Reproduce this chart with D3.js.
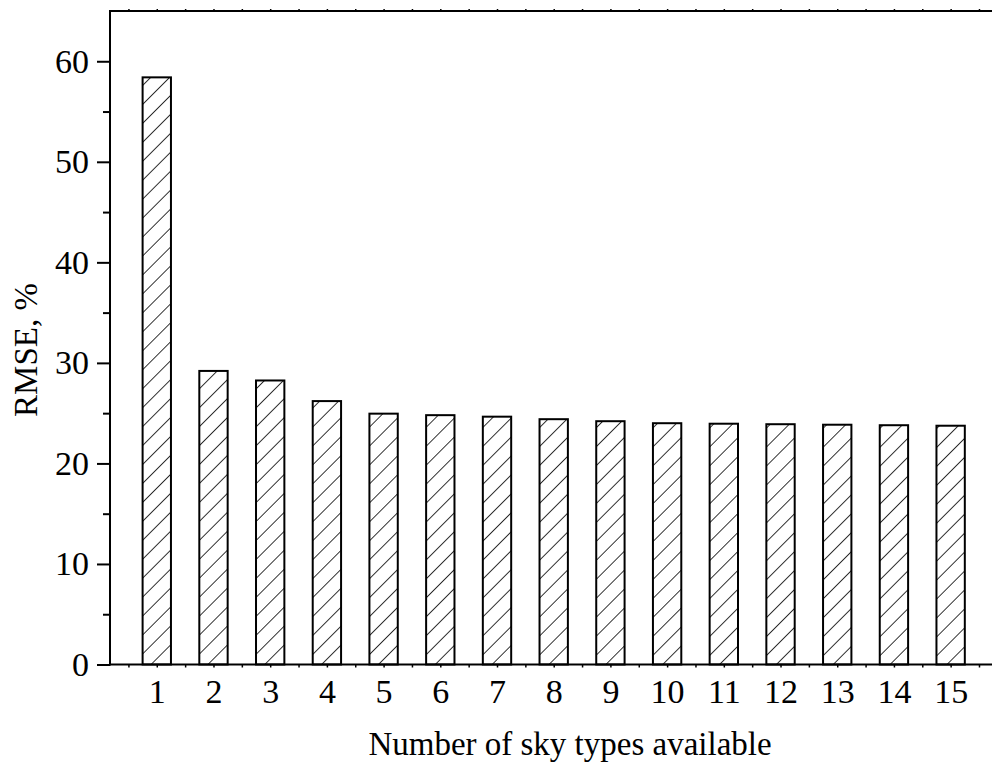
<!DOCTYPE html>
<html>
<head>
<meta charset="utf-8">
<script src="https://cdn.jsdelivr.net/npm/d3@7"></script>
<style>
  html, body { margin: 0; padding: 0; background: #fff; }
  svg { display: block; }
  text { font-family: "Liberation Serif", "Times New Roman", serif; fill: #000; }
</style>
</head>
<body>
<svg id="chart" width="992" height="764"></svg>
<script>
// Number of sky types available (category) and the resulting RMSE (%)
const categories = [1, 2, 3, 4, 5, 6, 7, 8, 9, 10, 11, 12, 13, 14, 15];
const rmse = [58.4, 29.2, 28.25, 26.2, 24.95, 24.8, 24.65, 24.4, 24.2, 24.0, 23.95, 23.9, 23.85, 23.8, 23.75];
const yTicks = [0, 10, 20, 30, 40, 50, 60];
const yMinorTicks = [5, 15, 25, 35, 45, 55];
const xMinorTicks = d3.range(0.5, 16, 0.5);

const svg = d3.select("#chart");
const plotLeft = 110, plotTop = 11, plotBottom = 664.5, plotRight = 996;

const x = d3.scaleLinear().domain([0.175, 15.8]).range([plotLeft, plotRight]);
const y = d3.scaleLinear().domain([0, 65]).range([plotBottom, plotTop]);
const barW = x(1.25) - x(0.75);

// Diagonal hatch pattern
const defs = svg.append("defs");
const pat = defs.append("pattern")
  .attr("id", "hatch")
  .attr("patternUnits", "userSpaceOnUse")
  .attr("width", 13.4).attr("height", 13.4)
  .attr("patternTransform", "rotate(45)");
pat.append("rect").attr("width", 13.4).attr("height", 13.4).attr("fill", "#fff");
pat.append("line").attr("x1", 0).attr("y1", 0).attr("x2", 0).attr("y2", 13.4)
  .attr("stroke", "#000").attr("stroke-width", 1.6);

// Bars
svg.append("g").selectAll("rect")
  .data(categories)
  .join("rect")
  .attr("x", (d) => x(d) - barW / 2)
  .attr("y", (d, i) => y(rmse[i]))
  .attr("width", barW)
  .attr("height", (d, i) => y(0) - y(rmse[i]))
  .attr("fill", "url(#hatch)")
  .attr("stroke", "#000")
  .attr("stroke-width", 2);

// Left axis: major ticks with labels, minor ticks between
const yAxis = svg.append("g").attr("transform", `translate(${plotLeft},0)`)
  .call(d3.axisLeft(y).tickValues(yTicks).tickSize(13).tickPadding(8).tickFormat(d3.format("d")));
yAxis.select(".domain").remove();
yAxis.selectAll(".tick line").attr("stroke-width", 2);
yAxis.selectAll(".tick text").style("font-size", "34px").attr("font-family", null);

const yMinor = svg.append("g").attr("transform", `translate(${plotLeft},0)`)
  .call(d3.axisLeft(y).tickValues(yMinorTicks).tickSize(7).tickFormat(""));
yMinor.select(".domain").remove();
yMinor.selectAll(".tick line").attr("stroke-width", 2);

// Bottom axis: labelled categories plus small half-step ticks
const xAxis = svg.append("g").attr("transform", `translate(0,${plotBottom})`)
  .call(d3.axisBottom(x).tickValues(categories).tickSize(0).tickPadding(14).tickFormat(d3.format("d")));
xAxis.select(".domain").remove();
xAxis.selectAll(".tick text").style("font-size", "34px").attr("font-family", null);

const xMinor = svg.append("g").attr("transform", `translate(0,${plotBottom})`)
  .call(d3.axisBottom(x).tickValues(xMinorTicks).tickSize(3).tickFormat(""));
xMinor.select(".domain").remove();
xMinor.selectAll(".tick line").attr("stroke-width", 1.5);

const xTop = svg.append("g").attr("transform", `translate(0,${plotTop})`)
  .call(d3.axisTop(x).tickValues(xMinorTicks).tickSize(2).tickFormat(""));
xTop.select(".domain").remove();
xTop.selectAll(".tick line").attr("stroke-width", 1.5);

// Frame lines
svg.append("line").attr("x1", plotLeft).attr("x2", plotRight).attr("y1", plotBottom).attr("y2", plotBottom)
  .attr("stroke", "#000").attr("stroke-width", 2);
svg.append("line").attr("x1", plotLeft - 1).attr("x2", plotRight).attr("y1", plotTop).attr("y2", plotTop)
  .attr("stroke", "#000").attr("stroke-width", 2);
svg.append("line").attr("x1", plotLeft).attr("x2", plotLeft).attr("y1", plotTop).attr("y2", plotBottom + 1)
  .attr("stroke", "#000").attr("stroke-width", 2);

// Axis titles
svg.append("text")
  .attr("x", 570).attr("y", 755)
  .attr("text-anchor", "middle")
  .style("font-size", "33px")
  .text("Number of sky types available");

svg.append("text")
  .attr("transform", `translate(37,350) rotate(-90)`)
  .attr("text-anchor", "middle")
  .style("font-size", "33px")
  .text("RMSE, %");
</script>
</body>
</html>
